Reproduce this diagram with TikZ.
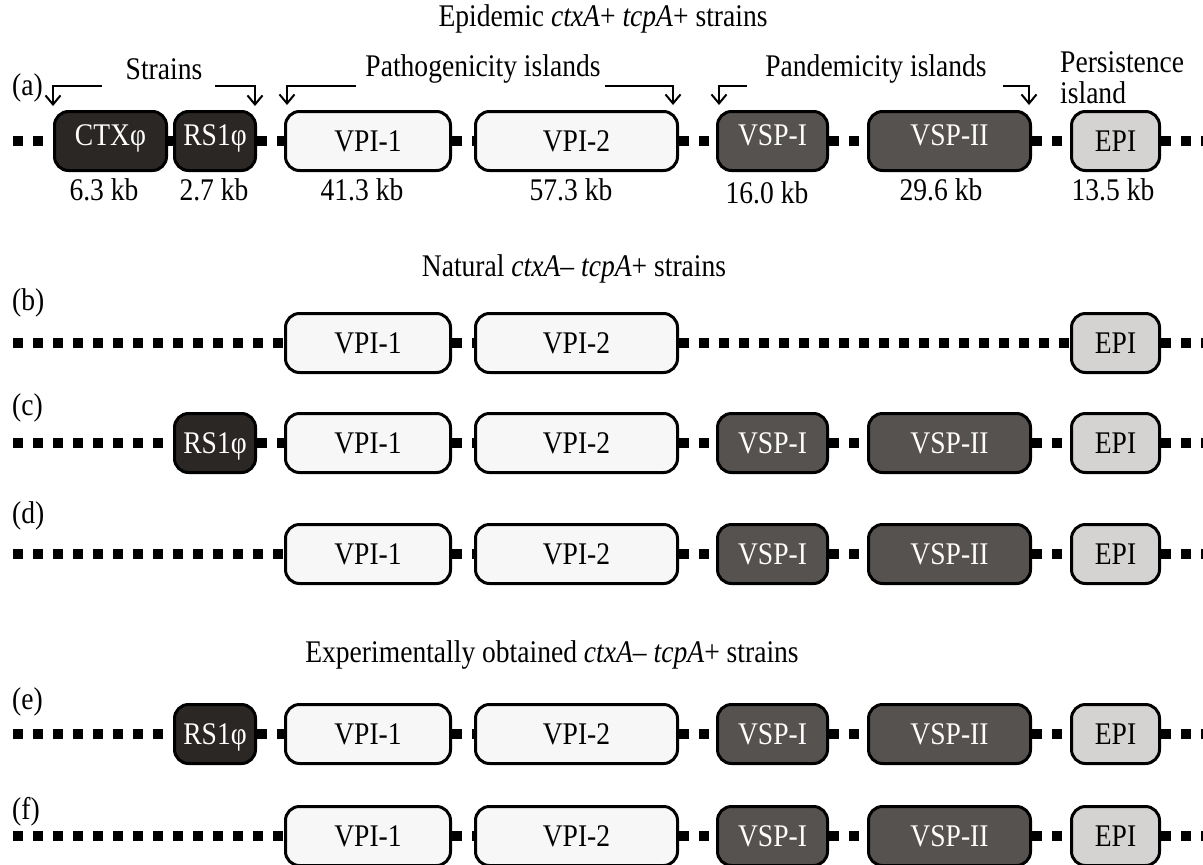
\documentclass[tikz,border=0pt]{standalone}
\usepackage{fontspec}
\setmainfont[FakeStretch=0.875]{Liberation Serif}
\usetikzlibrary{arrows.meta}

\begin{document}
\begin{tikzpicture}[x=1pt, y=-1pt]
    % Define colours
    \definecolor{phageColour}{HTML}{2B2725}
    \definecolor{vspColour}{HTML}{56524F}
    \definecolor{vpiColour}{HTML}{F7F7F7}
    \definecolor{epiColour}{HTML}{D4D3D2}

    % Define styles
    \tikzset{
        txt/.style={font=\fontsize{31.5}{31}\selectfont, inner sep=0pt},
        island/.style={txt, draw=black, line width=3pt, rounded corners=14pt,
            minimum height=59pt, minimum width=#1, text height=21pt, text depth=0pt},
        phage/.style={island=#1, fill=phageColour, text=white},
        vpi/.style={island=#1, fill=vpiColour},
        vsp/.style={island=#1, fill=vspColour, text=white},
        epi/.style={island=#1, fill=epiColour},
        chrom/.style={line width=10pt, dash pattern=on 10pt off 10pt},
        bracket/.style={line width=2pt, -{Straight Barb[length=9pt,width=15pt]}}
    }

    \useasboundingbox (0,0) rectangle (1203,865);

    % Headings
    \node[txt] (titleA) at (603,19) {Epidemic \textit{ctxA}+ \textit{tcpA}+ strains};
    \node[txt] (titleB) at (574,269) {Natural \textit{ctxA}– \textit{tcpA}+ strains};
    \node[txt] (titleE) at (552,655) {Experimentally obtained \textit{ctxA}– \textit{tcpA}+ strains};

    % Group labels of row (a)
    \node[txt] (strains) at (164,69) {Strains};
    \node[txt] (patho) at (483,69) {Pathogenicity islands};
    \node[txt] (pandem) at (876,69) {Pandemicity islands};
    \node[txt, anchor=west, align=left] (persist) at (1060,78) {Persistence\\island};

    % Brackets
    \draw[bracket] (102,86) -- (53,86) -- (53,106);
    \draw[bracket] (215,86) -- (255,86) -- (255,106);
    \draw[bracket] (356,86) -- (287,86) -- (287,105);
    \draw[bracket] (605,86) -- (673,86) -- (673,105);
    \draw[bracket] (747,86) -- (719,86) -- (719,105);
    \draw[bracket] (1003,86) -- (1029,86) -- (1029,105);

    % Row (a)
    \node[txt, anchor=west] (labA) at (12,88) {(a)};
    \coordinate (startA) at (13,141);
    \coordinate (endA) at (1203,141);
    \node[phage=112] (ctxA) at (110.5,141) {\raisebox{6pt}{CTXφ}};
    \node[phage=81] (rsA) at (215,141) {\raisebox{6pt}{RS1φ}};
    \node[vpi=165] (vpiOneA) at (368,141) {VPI-1};
    \node[vpi=202] (vpiTwoA) at (576.5,141) {VPI-2};
    \node[vsp=110] (vspOneA) at (772.5,141) {\raisebox{6pt}{VSP-I}};
    \node[vsp=162] (vspTwoA) at (949.5,141) {\raisebox{6pt}{VSP-II}};
    \node[epi=88] (epiA) at (1115.5,141) {EPI};
    \draw[chrom] (startA) -- (ctxA.west) (ctxA.east) -- (rsA.west)
        (rsA.east) -- (vpiOneA.west) (vpiOneA.east) -- (vpiTwoA.west)
        (vpiTwoA.east) -- (vspOneA.west) (vspOneA.east) -- (vspTwoA.west)
        (vspTwoA.east) -- (epiA.west) (epiA.east) -- (endA);

    % Sizes
    \node[txt] (kbCtx) at (104,190) {6.3 kb};
    \node[txt] (kbRs) at (214,190) {2.7 kb};
    \node[txt] (kbVpiOne) at (362,190) {41.3 kb};
    \node[txt] (kbVpiTwo) at (571,190) {57.3 kb};
    \node[txt] (kbVspOne) at (767,193) {16.0 kb};
    \node[txt] (kbVspTwo) at (941,190) {29.6 kb};
    \node[txt] (kbEpi) at (1113,190) {13.5 kb};

    % Row (b)
    \node[txt, anchor=west] (labB) at (12,303) {(b)};
    \coordinate (startB) at (13,343);
    \coordinate (endB) at (1203,343);
    \node[vpi=165] (vpiOneB) at (368,343) {VPI-1};
    \node[vpi=202] (vpiTwoB) at (576.5,343) {VPI-2};
    \node[epi=88] (epiB) at (1115.5,343) {EPI};
    \draw[chrom] (startB) -- (vpiOneB.west) (vpiOneB.east) -- (vpiTwoB.west)
        (vpiTwoB.east) -- (epiB.west) (epiB.east) -- (endB);

    % Rows (c) to (f)
    \foreach \r/\y/\ly/\rs in {c/443/408/1, d/554/516/0, e/734/702/1, f/836/812/0} {
        \node[txt, anchor=west] (lab\r) at (12,\ly) {(\r)};
        \coordinate (start\r) at (13,\y);
        \coordinate (end\r) at (1203,\y);
        \node[vpi=165] (vpiOne\r) at (368,\y) {VPI-1};
        \node[vpi=202] (vpiTwo\r) at (576.5,\y) {VPI-2};
        \node[vsp=110] (vspOne\r) at (772.5,\y) {VSP-I};
        \node[vsp=162] (vspTwo\r) at (949.5,\y) {VSP-II};
        \node[epi=88] (epi\r) at (1115.5,\y) {EPI};
        \ifnum\rs=1
            \node[phage=81] (rs\r) at (215,\y) {RS1φ};
            \draw[chrom] (start\r) -- (rs\r.west) (rs\r.east) -- (vpiOne\r.west);
        \else
            \draw[chrom] (start\r) -- (vpiOne\r.west);
        \fi
        \draw[chrom] (vpiOne\r.east) -- (vpiTwo\r.west)
            (vpiTwo\r.east) -- (vspOne\r.west) (vspOne\r.east) -- (vspTwo\r.west)
            (vspTwo\r.east) -- (epi\r.west) (epi\r.east) -- (end\r);
    }
\end{tikzpicture}
\end{document}
